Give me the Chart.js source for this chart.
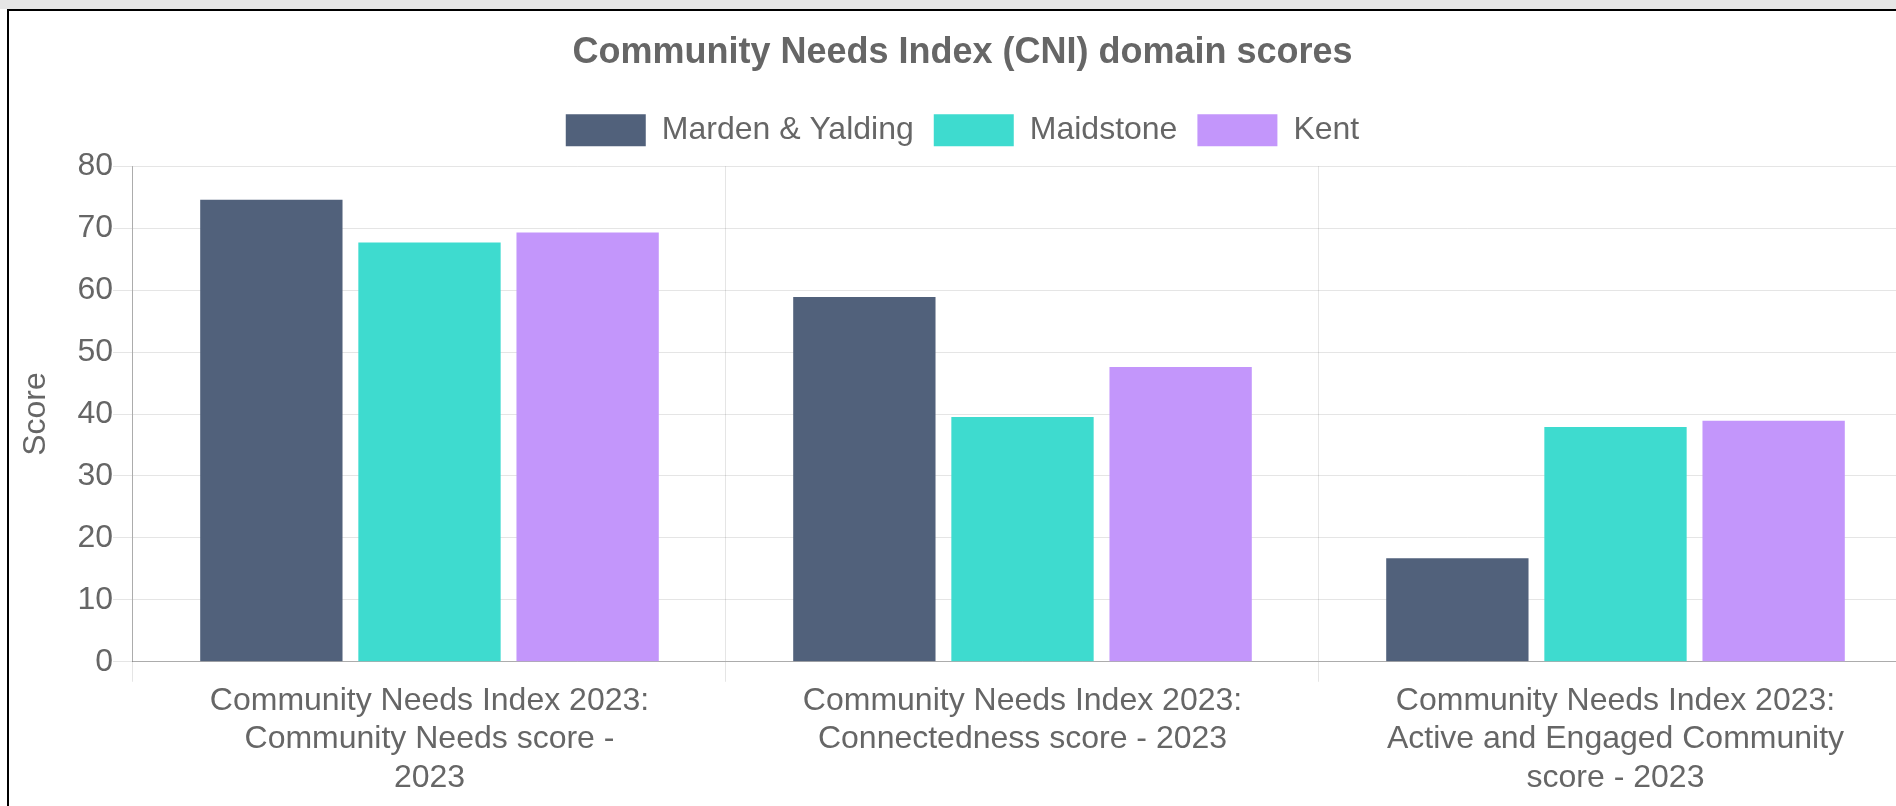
<!DOCTYPE html>
<html>
<head>
<meta charset="utf-8">
<title>Community Needs Index (CNI) domain scores</title>
<script src="https://cdn.jsdelivr.net/npm/chart.js@4.4.0/dist/chart.umd.min.js"></script>
<style>
  html, body { margin: 0; padding: 0; background: #fff; width: 1896px; height: 806px; overflow: hidden; }
  .page { position: relative; width: 1896px; height: 806px; overflow: hidden; }
  .topbar { position: absolute; left: 0; top: 0; width: 1896px; height: 9px; background: #e6e6e6; }
  .frame { position: absolute; left: 7px; top: 9px; border: 2px solid #000; width: 1910px; height: 795px; }
</style>
</head>
<body>
<div class="page">
<div class="topbar"></div>
<div class="frame"><canvas id="cniChart"></canvas></div>
</div>
<script>
const textColor = '#666'
const gridColor = 'rgba(0,0,0,0.1)'
const axisColor = 'rgba(0,0,0,0.25)'

// data
const areaNames = ['Marden & Yalding', 'Maidstone', 'Kent']
const areaColours = ['#51617b', '#3edbcf', '#c396fb']
const domainLabels = [
	['Community Needs Index 2023:', 'Community Needs score -', '2023'],
	['Community Needs Index 2023:', 'Connectedness score - 2023'],
	['Community Needs Index 2023:', 'Active and Engaged Community', 'score - 2023']
]
const mardenScores = [74.6, 58.9, 16.7]
const maidstoneScores = [67.7, 39.5, 37.9]
const kentScores = [69.3, 47.6, 38.9]
const scoreMin = 0
const scoreMax = 80
const scoreStep = 10

Chart.defaults.font.family = "Arial, 'Liberation Sans', Helvetica, sans-serif"
Chart.defaults.color = textColor

const seriesValues = [mardenScores, maidstoneScores, kentScores]
const datasets = []
for (var i = 0; i < areaNames.length; i++) {
	datasets.push({
		label: areaNames[i],
		data: seriesValues[i],
		backgroundColor: areaColours[i],
		borderColor: areaColours[i],
		borderWidth: 0,
		barPercentage: 0.9,
		categoryPercentage: 0.8
	})
}

// push the plot a bit further below the legend
const legendGap = {
	id: 'legendGap',
	beforeInit: function (chart) {
		const fit = chart.legend.fit
		chart.legend.fit = function () {
			fit.bind(chart.legend)()
			this.height += 10
		}
	}
}

var ctx = document.getElementById('cniChart')
var barChart = new Chart(ctx, {
	type: 'bar',
	data: {
		labels: domainLabels,
		datasets: datasets
	},
	plugins: [legendGap],
	options: {
		responsive: true,
		maintainAspectRatio: false,
		animation: false,
		layout: {
			padding: { left: 4, right: 7, top: 0, bottom: 9 }
		},
		plugins: {
			title: {
				display: true,
				text: 'Community Needs Index (CNI) domain scores',
				color: textColor,
				font: { size: 36, weight: 'bold' },
				padding: { top: 20, bottom: 20 }
			},
			legend: {
				labels: {
					color: textColor,
					font: { size: 32 },
					boxWidth: 80,
					boxHeight: 32,
					padding: 20
				}
			},
			tooltip: { enabled: false }
		},
		scales: {
			x: {
				grid: { color: gridColor, tickLength: 20, offset: true },
				border: { color: axisColor },
				ticks: { color: textColor, font: { size: 32 }, padding: 0, maxRotation: 0, autoSkip: false }
			},
			y: {
				min: scoreMin,
				max: scoreMax,
				ticks: { stepSize: scoreStep, color: textColor, font: { size: 32 }, padding: 0 },
				grid: { color: gridColor, tickLength: 20 },
				border: { color: axisColor },
				title: {
					display: true,
					text: 'Score',
					color: textColor,
					font: { size: 32 },
					padding: { top: 4, bottom: 22 }
				}
			}
		}
	}
})
</script>
</body>
</html>
